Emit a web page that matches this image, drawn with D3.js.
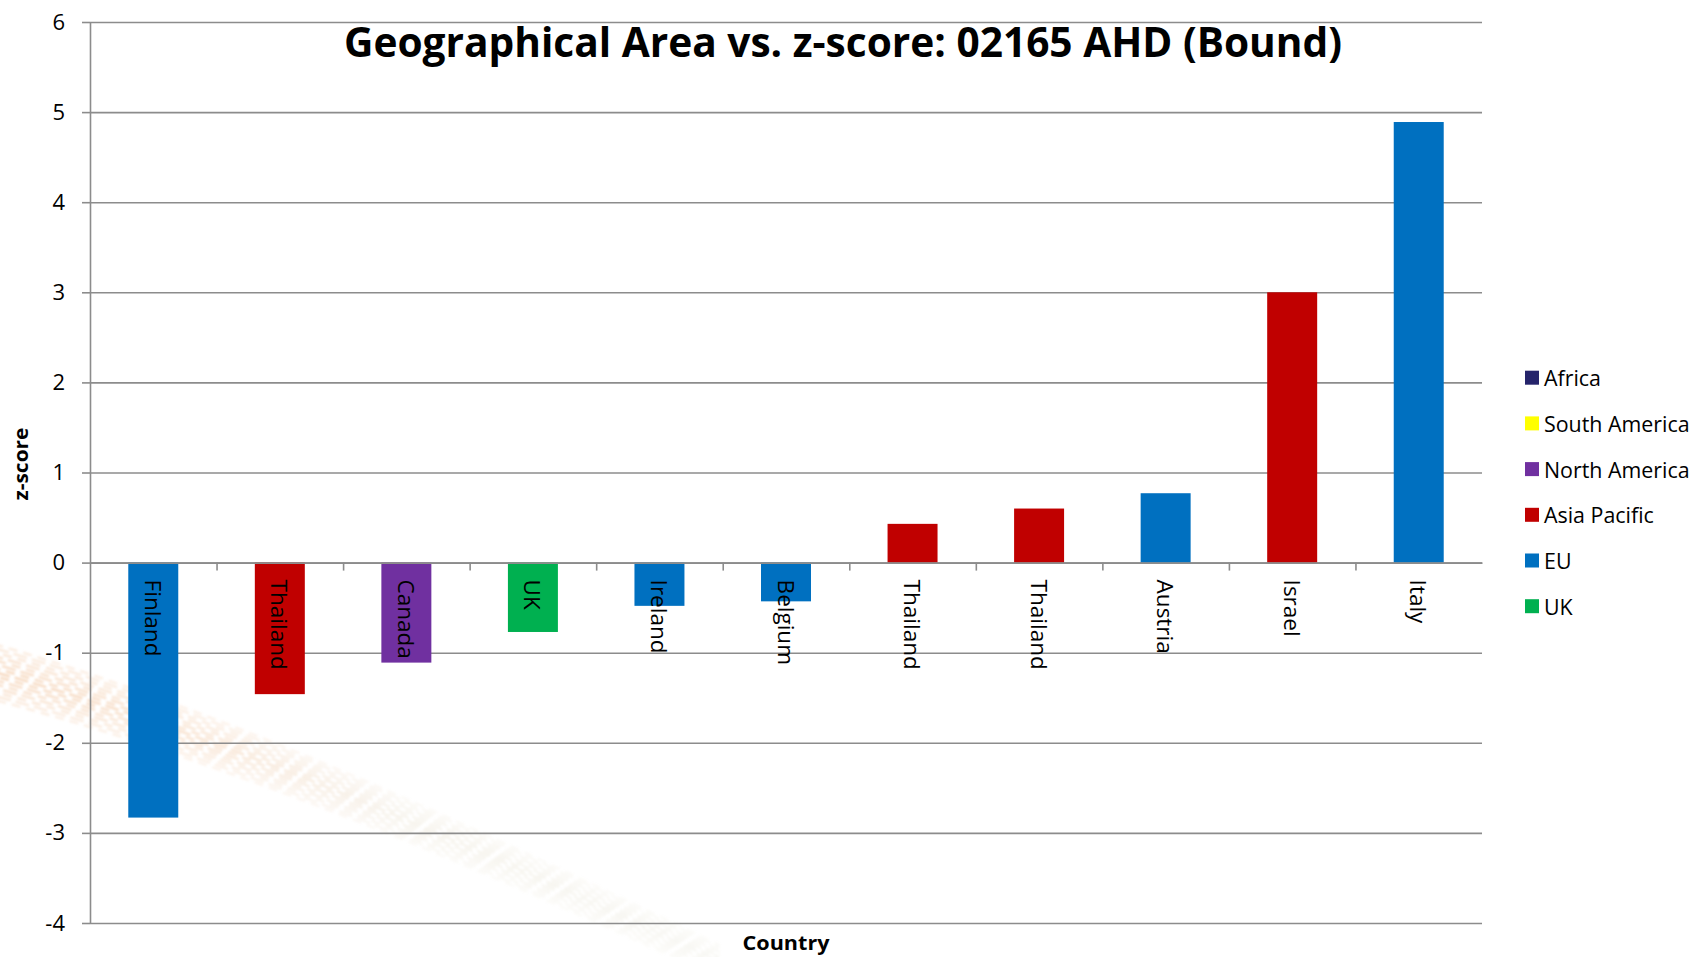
<!DOCTYPE html>
<html>
<head>
<meta charset="utf-8">
<script src="https://cdn.jsdelivr.net/npm/d3@7/dist/d3.min.js"></script>
<style>
  html, body { margin: 0; padding: 0; background: #ffffff; }
  svg { display: block; }
</style>
</head>
<body>
<svg id="chart" width="1692" height="957"></svg>
<script>
// ---------------- data ----------------
const categories = ["Finland", "Thailand", "Canada", "UK", "Ireland", "Belgium", "Thailand", "Thailand", "Austria", "Israel", "Italy"];
const values = [-2.83, -1.46, -1.11, -0.77, -0.48, -0.43, 0.43, 0.60, 0.77, 3.00, 4.89];
const regions = ["EU", "Asia Pacific", "North America", "UK", "EU", "EU", "Asia Pacific", "Asia Pacific", "EU", "Asia Pacific", "EU"];
const legendLabels = ["Africa", "South America", "North America", "Asia Pacific", "EU", "UK"];
const legendColors = ["#25246b", "#ffff00", "#7030a0", "#c00000", "#0070c0", "#00b050"];
const yTicks = [-4, -3, -2, -1, 0, 1, 2, 3, 4, 5, 6];
const titleText = "Geographical Area vs. z-score: 02165 AHD (Bound)";
const xTitle = "Country";
const yTitle = "z-score";

// ---------------- layout ----------------
const W = 1692, H = 957;
const plot = { left: 90, right: 1482, top: 22, bottom: 923 };
const svg = d3.select("#chart");
const fontBody = "'Open Sans', 'DejaVu Sans', sans-serif";

const color = d3.scaleOrdinal().domain(legendLabels).range(legendColors);
const x = d3.scaleBand().domain(d3.range(categories.length))
  .range([plot.left, plot.right]).paddingInner(0.605).paddingOuter(0.3025);
const xEdge = d3.scaleLinear().domain([0, categories.length]).range([plot.left, plot.right]);
const y = d3.scaleLinear().domain([-4, 6]).range([plot.bottom, plot.top]);

// ---------------- decorative watermark ----------------
const defs = svg.append("defs");
const grad = defs.append("linearGradient").attr("id", "wm").attr("gradientUnits", "userSpaceOnUse")
  .attr("x1", 0).attr("y1", 660).attr("x2", 720).attr("y2", 957);
grad.append("stop").attr("offset", "0").attr("stop-color", "#eba66c").attr("stop-opacity", 0.5);
grad.append("stop").attr("offset", "0.3").attr("stop-color", "#eeb585").attr("stop-opacity", 0.4);
grad.append("stop").attr("offset", "0.55").attr("stop-color", "#e0d2b8").attr("stop-opacity", 0.3);
grad.append("stop").attr("offset", "1").attr("stop-color", "#dcdac8").attr("stop-opacity", 0.2);
defs.append("filter").attr("id", "soft").append("feGaussianBlur").attr("stdDeviation", 0.8);
const wm = svg.append("g").attr("class", "watermark").attr("filter", "url(#soft)");
const offsets = d3.range(-28, 29, 4);
offsets.forEach((o, i) => {
  const k = 1 - Math.abs(o) / 34;
  wm.append("path")
    .attr("d", `M ${-20} ${668 + o} C ${200} ${728 + o * 0.9}, ${420} ${820 + o * 0.7}, ${720} ${962 + o * 0.6}`)
    .attr("fill", "none")
    .attr("stroke", "url(#wm)")
    .attr("stroke-width", 2.4)
    .attr("stroke-dasharray", (i % 2 ? "14 5" : "9 6"))
    .attr("stroke-dashoffset", i * 3)
    .attr("opacity", 0.3 + 0.6 * k);
});

// ---------------- gridlines ----------------
const grid = svg.append("g").attr("transform", `translate(${plot.left},0)`)
  .call(d3.axisLeft(y).tickValues(yTicks).tickSize(-(plot.right - plot.left)).tickFormat(""));
grid.select(".domain").remove();
grid.selectAll("line").attr("stroke", "#8c8c8c").attr("stroke-width", 1.6);

// ---------------- y axis ----------------
const yAxis = svg.append("g").attr("transform", `translate(${plot.left},0)`)
  .call(d3.axisLeft(y).tickValues(yTicks).tickSize(8).tickSizeOuter(0).tickPadding(17).tickFormat(d3.format("d")));
yAxis.select(".domain").attr("stroke", "#8c8c8c").attr("stroke-width", 1.6);
yAxis.selectAll("line").attr("stroke", "#8c8c8c").attr("stroke-width", 1.6);
yAxis.selectAll("text").attr("font-family", fontBody).attr("font-size", 22).attr("fill", "#000")
  .text(d => d < 0 ? "-" + Math.abs(d) : d);

// ---------------- bars ----------------
svg.append("g").selectAll("rect").data(values).join("rect")
  .attr("x", (d, i) => x(i))
  .attr("width", x.bandwidth())
  .attr("y", d => y(Math.max(0, d)))
  .attr("height", d => Math.abs(y(d) - y(0)))
  .attr("fill", (d, i) => color(regions[i]));

// ---------------- category axis on zero line ----------------
const xAxis = svg.append("g").attr("transform", `translate(0,${y(0)})`)
  .call(d3.axisBottom(xEdge).tickValues(d3.range(1, categories.length)).tickSize(8).tickSizeOuter(0).tickFormat(""));
xAxis.select(".domain").attr("stroke", "#8c8c8c").attr("stroke-width", 1.6);
xAxis.selectAll("line").attr("stroke", "#8c8c8c").attr("stroke-width", 1.6);

// category labels, rotated, starting below the zero line
svg.append("g").selectAll("text").data(categories).join("text")
  .attr("transform", (d, i) => `translate(${x(i) + x.bandwidth() / 2},${y(0) + 17}) rotate(90)`)
  .attr("text-anchor", "start")
  .attr("dominant-baseline", "central")
  .attr("font-family", fontBody)
  .attr("font-size", 22.5)
  .attr("fill", "#000")
  .text(d => d);

// ---------------- titles ----------------
svg.append("text")
  .attr("x", 843).attr("y", 57)
  .attr("text-anchor", "middle")
  .attr("font-family", "'Open Sans', 'DejaVu Sans', sans-serif")
  .attr("font-weight", "bold")
  .attr("font-size", 41)
  .attr("textLength", 998)
  .attr("lengthAdjust", "spacingAndGlyphs")
  .attr("fill", "#000")
  .text(titleText);

svg.append("text")
  .attr("x", (plot.left + plot.right) / 2).attr("y", 950)
  .attr("text-anchor", "middle")
  .attr("font-family", fontBody)
  .attr("font-weight", "bold")
  .attr("font-size", 20)
  .attr("textLength", 87)
  .attr("lengthAdjust", "spacingAndGlyphs")
  .attr("fill", "#000")
  .text(xTitle);

svg.append("text")
  .attr("transform", `translate(28,464) rotate(-90)`)
  .attr("text-anchor", "middle")
  .attr("font-family", fontBody)
  .attr("font-weight", "bold")
  .attr("font-size", 20)
  .attr("textLength", 73)
  .attr("lengthAdjust", "spacingAndGlyphs")
  .attr("fill", "#000")
  .text(yTitle);

// ---------------- legend ----------------
const legend = svg.append("g");
const items = legend.selectAll("g").data(legendLabels).join("g")
  .attr("transform", (d, i) => `translate(1525,${377.7 + i * 45.7})`);
items.append("rect").attr("x", 0).attr("y", -7).attr("width", 14).attr("height", 14)
  .attr("fill", d => color(d));
items.append("text").attr("x", 19).attr("y", 0)
  .attr("dominant-baseline", "central")
  .attr("font-family", fontBody)
  .attr("font-size", 21.4)
  .attr("fill", "#000")
  .text(d => d);
</script>
</body>
</html>
